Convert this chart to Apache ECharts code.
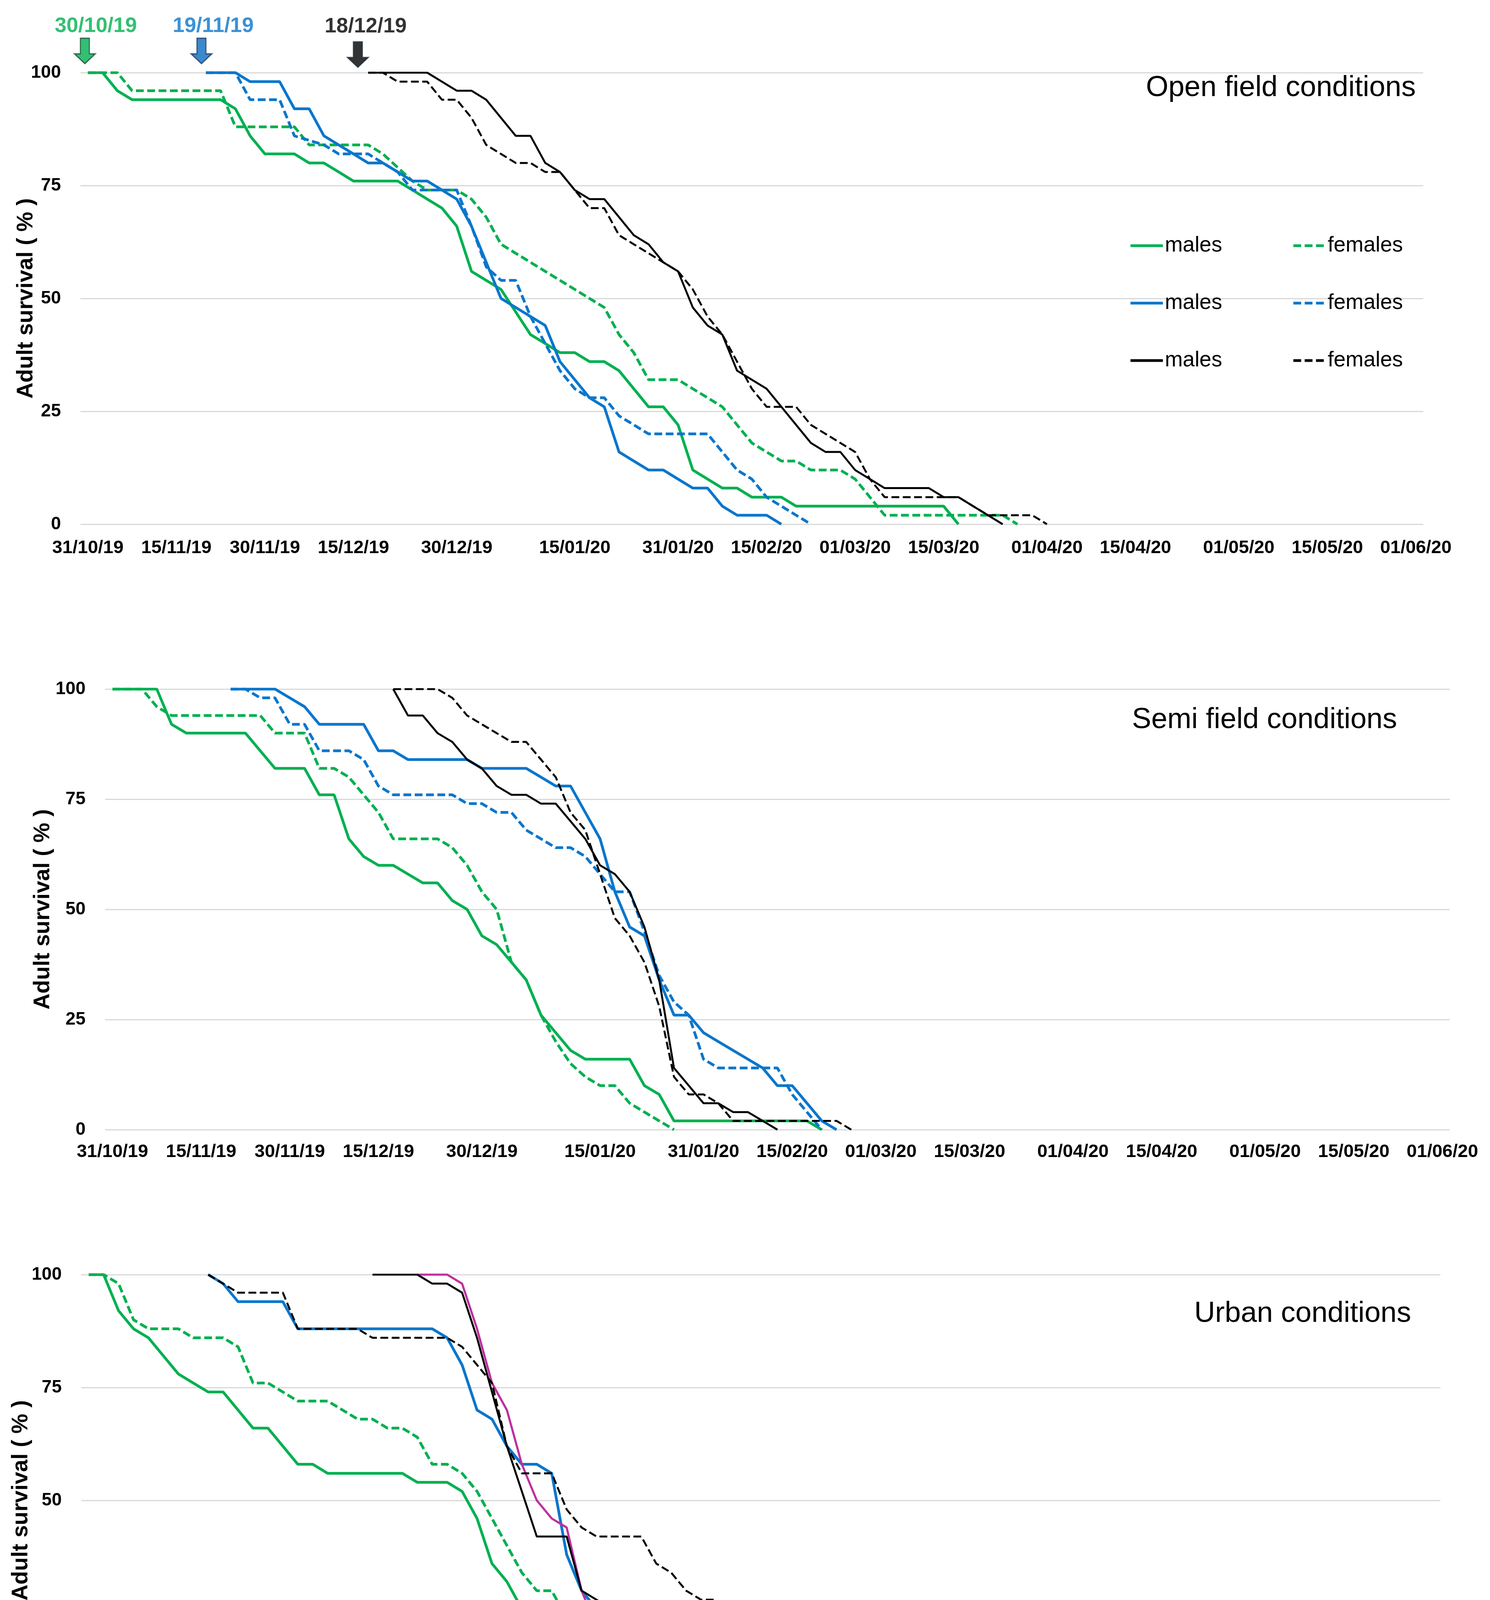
<!DOCTYPE html>
<html><head><meta charset="utf-8">
<script src="https://cdn.jsdelivr.net/npm/echarts@6/dist/echarts.min.js"></script>
<style>html,body{margin:0;padding:0;background:#fff}#c{width:3815px;height:4544px}</style>
</head><body><div id="c"></div>
<script>
// ---- x axis: observation index (one step per census), tick labels ----
const tickIdx = [0, 6, 12, 18, 25, 33, 40, 46, 52, 58, 65, 71, 78, 84, 90];
const tickLabels = ['31/10/19','15/11/19','30/11/19','15/12/19','30/12/19','15/01/20','31/01/20','15/02/20','01/03/20','15/03/20','01/04/20','15/04/20','01/05/20','15/05/20','01/06/20'];
const yTicks = [0, 25, 50, 75, 100];

// ---- release annotations (top panel) ----
const releaseDates = ['30/10/19', '19/11/19', '18/12/19'];
const releaseIdx = [-0.2, 7.7, 18.3];
const releaseTip = [102, 102, 101.2];

// ---- Open field conditions (start index, values) ----
const openGreenMStart = 0;
const openGreenM = [100,100,96,94,94,94,94,94,94,94, 92,86,82,82,82,80,80,78,76,76, 76,76,74,72,70,66,56,54,52,47, 42,40,38,38,36,36,34,30,26,26, 22,12,10,8,8,6,6,6,4,4, 4,4,4,4,4,4,4,4,4,0];
const openGreenFStart = 0;
const openGreenF = [100,100,100,96,96,96,96,96,96,96, 88,88,88,88,88,84,84,84,84,84, 82,79,76,74,74,74,72,68,62,60, 58,56,54,52,50,48,42,38,32,32, 32,30,28,26,22,18,16,14,14,12, 12,12,10,6,2,2,2,2,2,2, 2,2,2,0];
const openBlueMStart = 8;
const openBlueM = [100,100,100,98,98,98,92,92,86,84, 82,80,80,78,76,76,74,72,66,58, 50,48,46,44,36,32,28,26,16,14, 12,12,10,8,8,4,2,2,2,0];
const openBlueFStart = 8;
const openBlueF = [100,100,100,94,94,94,86,85,84,82, 82,82,80,78,74,74,74,74,66,57, 54,54,46,40,34,30,28,28,24,22, 20,20,20,20,20,16,12,10,6,4, 2,0];
const openBlackMStart = 19;
const openBlackM = [100,100,100,100,100,98,96,96,94,90, 86,86,80,78,74,72,72,68,64,62, 58,56,48,44,42,34,32,30,26,22, 18,16,16,12,10,8,8,8,8,6, 6,4,2,0];
const openBlackFStart = 19;
const openBlackF = [100,100,98,98,98,94,94,90,84,82, 80,80,78,78,74,70,70,64,62,60, 58,56,52,46,42,36,30,26,26,26, 22,20,18,16,10,6,6,6,6,6, 6,4,2,2,2,2,0];

// ---- Semi field conditions ----
const semiGreenMStart = 0;
const semiGreenM = [100,100,100,100,92,90,90,90,90,90, 86,82,82,82,76,76,66,62,60,60, 58,56,56,52,50,44,42,38,34,26, 22,18,16,16,16,16,10,8,2,2, 2,2,2,2,2,2,2,2,0];
const semiGreenFStart = 0;
const semiGreenF = [100,100,100,96,94,94,94,94,94,94, 94,90,90,90,82,82,80,76,72,66, 66,66,66,64,60,54,50,38,34,26, 20,15,12,10,10,6,4,2,0];
const semiBlueMStart = 8;
const semiBlueM = [100,100,100,100,98,96,92,92,92,92, 86,86,84,84,84,84,84,82,82,82, 82,80,78,78,72,66,54,46,44,34, 26,26,22,20,18,16,14,10,10,6, 2,0];
const semiBlueFStart = 8;
const semiBlueF = [100,100,98,98,92,92,86,86,86,84, 78,76,76,76,76,76,74,74,72,72, 68,66,64,64,62,58,54,54,45,35, 29,26,16,14,14,14,14,14,8,4, 0];
const semiBlackMStart = 19;
const semiBlackM = [100,94,94,90,88,84,82,78,76,76, 74,74,70,66,60,58,54,46,34,14, 10,6,6,4,4,2,0];
const semiBlackFStart = 19;
const semiBlackF = [100,100,100,100,98,94,92,90,88,88, 84,80,72,68,58,48,44,38,28,12, 8,8,6,2,2,2,2,2,2,2, 2,0];

// ---- Urban conditions ----
const urbGreenMStart = 0;
const urbGreenM = [100,100,92,88,86,82,78,76,74,74, 70,66,66,62,58,58,56,56,56,56, 56,56,54,54,54,52,46,36,32,26, 22,20,14,8,8,8,8,6,6,4, 2,0];
const urbGreenFStart = 0;
const urbGreenF = [100,100,98,90,88,88,88,86,86,86, 84,76,76,74,72,72,72,70,68,68, 66,66,64,58,58,56,52,46,40,34, 30,30,24,22,20,20,20,20,20,18, 16,14,12,12,12,12,12,10,10,10, 8,6,6,6,4,4,4,4,4,4, 4,4,2,2,2,2,2,2,2,2, 2,2,2,2,2,2,2,2,2,0];
const urbBlueMStart = 8;
const urbBlueM = [100,98,94,94,94,94,88,88,88,88, 88,88,88,88,88,88,86,80,70,68, 62,58,58,56,38,30,26,24,24,22, 22,18,16,16,16,16,16,16,16,14, 12,10,8,8,8,8,8,8,8,8, 8,8,8,6,6,6,6,6,6,4, 4,4,4,4,4,4,2,2,2,2, 2,2,2,2,2,2,2,0];
const urbBlackFStart = 8;
const urbBlackF = [100,98,96,96,96,96,88,88,88,88, 88,86,86,86,86,86,86,84,80,76, 62,56,56,56,48,44,42,42,42,42, 36,34,30,28,28,24,20,20,20,20, 20,20,18,18,18,18,18,18,18,18, 18,18,16,14,12,10,10,8,8,8, 6,4,2,2,2,2,2,2,2,2, 2,2,2,2,2,2,2,2,2,0];
const urbBlackMStart = 19;
const urbBlackM = [100,100,100,100,98,98,96,86,74,62, 52,42,42,42,30,28,26,26,26,24, 22,20,18,18,18,14,12,12,12,12, 12,10,8,6,6,6,6,6,6,6, 6,6,6,4,2,0];
const urbMagentaStart = 22;
const urbMagenta = [100,100,100,98,88,76,70,58,50,46, 44,30,22,20,18,14,12,10,6,4, 4,4,4,4,4,4,4,4,4,2, 2,2,2,2,2,2,2,2,2,2, 2,2,0,0];

// ---- styles ----
const FONT = 'Liberation Sans, Arial, sans-serif';
const COL = { green: '#00B050', blue: '#0A76CC', black: '#000000', magenta: '#BF2FA0' };
const WID = { green: 7, blue: 7, black: 5, magenta: 5.5 };
const DASH = [20, 9];

function pts(start, vals) { return vals.map((v, i) => [start + i, v]); }
function mk(name, color, dashed, gi, start, vals) {
  return {
    name: name, type: 'line', xAxisIndex: gi, yAxisIndex: gi,
    data: pts(start, vals), symbol: 'none', showSymbol: false, silent: true,
    lineStyle: { color: COL[color], width: WID[color], type: dashed ? DASH : 'solid' },
    itemStyle: { color: COL[color] }, z: color === 'black' ? 4 : 3
  };
}

const grids = [
  { left: 206, top: 186, width: 3438, height: 1156 },
  { left: 269, top: 1764, width: 3443, height: 1128 },
  { left: 208, top: 3263, width: 3480, height: 1156 }
];
const nameGaps = [110, 130, 125];
const labelMargins = [38, 34, 34];

const xAxes = grids.map((g, i) => ({
  type: 'value', gridIndex: i, min: -0.5, max: 90.5,
  axisLine: { show: false }, axisTick: { show: false }, splitLine: { show: false },
  axisLabel: {
    customValues: tickIdx,
    formatter: v => { const k = tickIdx.indexOf(Math.round(v)); return k >= 0 ? tickLabels[k] : ''; },
    fontFamily: FONT, fontWeight: 'bold', fontSize: 47, color: '#000', margin: labelMargins[i]
  }
}));
const yAxes = grids.map((g, i) => ({
  type: 'value', gridIndex: i, min: 0, max: 100, interval: 25,
  axisLine: { show: false }, axisTick: { show: false },
  splitLine: { show: true, lineStyle: { color: '#D9D9D9', width: 3 } },
  axisLabel: { fontFamily: FONT, fontWeight: 'bold', fontSize: 46, color: '#000', margin: 50,
    customValues: yTicks },
  name: 'Adult survival ( % )', nameLocation: 'middle', nameGap: nameGaps[i],
  nameMoveOverlap: false,
  nameTextStyle: { fontFamily: FONT, fontWeight: 'bold', fontSize: 57, color: '#000' }
}));

const series = [
  mk('green males', 'green', false, 0, openGreenMStart, openGreenM),
  mk('green females', 'green', true, 0, openGreenFStart, openGreenF),
  mk('blue males', 'blue', false, 0, openBlueMStart, openBlueM),
  mk('blue females', 'blue', true, 0, openBlueFStart, openBlueF),
  mk('black males', 'black', false, 0, openBlackMStart, openBlackM),
  mk('black females', 'black', true, 0, openBlackFStart, openBlackF),

  mk('green males', 'green', false, 1, semiGreenMStart, semiGreenM),
  mk('green females', 'green', true, 1, semiGreenFStart, semiGreenF),
  mk('blue males', 'blue', false, 1, semiBlueMStart, semiBlueM),
  mk('blue females', 'blue', true, 1, semiBlueFStart, semiBlueF),
  mk('black males', 'black', false, 1, semiBlackMStart, semiBlackM),
  mk('black females', 'black', true, 1, semiBlackFStart, semiBlackF),

  mk('green males', 'green', false, 2, urbGreenMStart, urbGreenM),
  mk('green females', 'green', true, 2, urbGreenFStart, urbGreenF),
  mk('blue males', 'blue', false, 2, urbBlueMStart, urbBlueM),
  mk('black females', 'black', true, 2, urbBlackFStart, urbBlackF),
  mk('black males', 'black', false, 2, urbBlackMStart, urbBlackM),
  mk('magenta males', 'magenta', false, 2, urbMagentaStart, urbMagenta)
];

// release arrows with date labels
const arrowFill = [COL.green, '#0A6CC0', '#000000'];
const arrowEdge = ['#1E4D3A', '#1F3864', '#1F3040'];
const textCol = [COL.green, COL.blue, '#000000'];
const textOff = [28, 30, 20];
const textDist = [2, 2, 10];
series.push({
  type: 'scatter', xAxisIndex: 0, yAxisIndex: 0, clip: false, silent: true, z: 10,
  symbol: 'path://M15,0L38,0L38,40L53,40L26.5,65L0,40L15,40Z',
  symbolSize: [53, 65], symbolOffset: [0, '-50%'],
  data: releaseIdx.map((x, i) => ({
    value: [x, releaseTip[i]],
    itemStyle: { color: arrowFill[i], borderColor: arrowEdge[i], borderWidth: 3 },
    label: { show: true, position: 'top', distance: textDist[i], offset: [textOff[i], 0],
      formatter: releaseDates[i], color: textCol[i],
      fontFamily: FONT, fontWeight: 'bold', fontSize: 54 }
  }))
});

const titleStyle = { fontFamily: FONT, fontWeight: 'normal', fontSize: 74, color: '#000' };
const legendBase = {
  orient: 'vertical', itemWidth: 83, itemHeight: 20, itemGap: 87, top: 594,
  selectedMode: false, formatter: n => n.split(' ')[1],
  itemStyle: { opacity: 0, borderWidth: 0 },
  lineStyle: { width: 7 },
  textStyle: { fontFamily: FONT, fontSize: 55, color: '#000', lineHeight: 60 }
};

const chart = echarts.init(document.getElementById('c'), null, { renderer: 'canvas' });
chart.setOption({
  backgroundColor: '#ffffff',
  animation: false,
  title: [
    { text: 'Open field conditions', right: 190, top: 189, padding: 0, textStyle: titleStyle },
    { text: 'Semi field conditions', right: 238, top: 1807, padding: 0, textStyle: titleStyle },
    { text: 'Urban conditions', right: 202, top: 3327, padding: 0, textStyle: titleStyle }
  ],
  legend: [
    Object.assign({}, legendBase, { left: 2886, data: ['green males', 'blue males', 'black males'] }),
    Object.assign({}, legendBase, { left: 3303, data: ['green females', 'blue females', 'black females'] })
  ],
  grid: grids,
  xAxis: xAxes,
  yAxis: yAxes,
  series: series
});
</script>
</body></html>
